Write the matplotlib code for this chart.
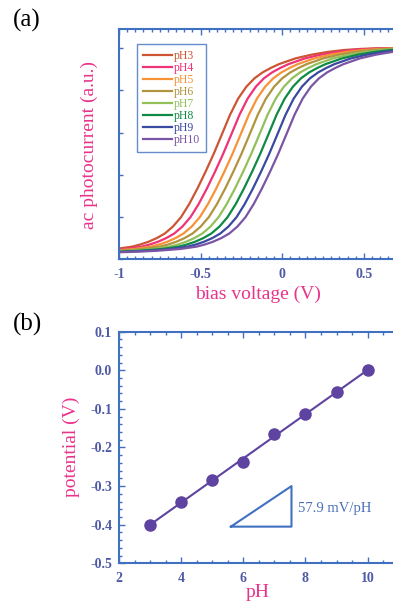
import numpy as np
import matplotlib
matplotlib.use("Agg")
import matplotlib.pyplot as plt
from matplotlib.ticker import MultipleLocator, FuncFormatter

# panel (a): photocurrent vs bias for each pH
ph_labels = ["pH3", "pH4", "pH5", "pH6", "pH7", "pH8", "pH9", "pH10"]
curve_colors = ["#cc5533", "#ee3377", "#f79239", "#b0943e",
                "#93c05a", "#0f8a45", "#3a4aa0", "#7a55a5"]
# bias (V) at half height for each curve
mid_v = [-0.42, -0.362, -0.305, -0.25, -0.19, -0.135, -0.08, -0.025]
# curve shape, bias relative to its half-height point
base_dv = [-1.05, -0.90, -0.75, -0.60, -0.50, -0.45, -0.40, -0.35, -0.30,
           -0.25, -0.20, -0.15, -0.10, -0.05, 0.00, 0.05, 0.10, 0.15, 0.20,
           0.25, 0.30, 0.35, 0.40, 0.50, 0.60, 0.70, 0.80, 0.90, 1.00, 1.20]
base_i = [0.032, 0.035, 0.040, 0.049, 0.060, 0.070, 0.083, 0.100, 0.122,
          0.155, 0.200, 0.262, 0.335, 0.415, 0.500, 0.592, 0.685, 0.762, 0.818,
          0.858, 0.886, 0.907, 0.925, 0.952, 0.970, 0.983, 0.992, 0.997, 1.000, 1.000]

# panel (b): flat band potential vs pH
ph = [3, 4, 5, 6, 7, 8, 9, 10]
potential = [-0.400, -0.342, -0.283, -0.237, -0.166, -0.113, -0.056, 0.000]
slope_text = "57.9 mV/pH"

spine_col = "#4070c0"
tick_col = "#4f5aa5"
label_col = "#e8338a"
plt.rcParams["font.family"] = ["Liberation Serif", "DejaVu Serif"]
plt.rcParams["font.weight"] = "bold"   # tick labels are bold, other text set to normal
plt.rcParams["axes.unicode_minus"] = False


def style_axes(ax):
    for s in ax.spines.values():
        s.set_color(spine_col)
        s.set_linewidth(1.5)
    ax.tick_params(which="both", direction="in", top=True, right=True,
                   color=spine_col, labelcolor=tick_col, labelsize=10, width=1.0)
    ax.tick_params(which="major", length=4, pad=6)
    ax.tick_params(which="minor", length=2)


fig = plt.figure(figsize=(3.93, 6.04), dpi=100)
ax1 = fig.add_axes([119 / 393, 1 - 259.3 / 604, 277.6 / 393, 230 / 604])
ax2 = fig.add_axes([119 / 393, 1 - 563.3 / 604, 279.7 / 393, 231.6 / 604])

# (a)
for lab, col, mv in zip(ph_labels, curve_colors, mid_v):
    ax1.plot(np.array(base_dv) + mv, base_i, color=col, lw=1.6, label=lab)
ax1.set_xlim(-1, 0.7)
ax1.set_ylim(0, 1.09)
ax1.xaxis.set_major_locator(MultipleLocator(0.5))
ax1.xaxis.set_minor_locator(MultipleLocator(0.05))
ax1.yaxis.set_major_locator(MultipleLocator(0.2))
ax1.xaxis.set_major_formatter(FuncFormatter(lambda v, p: "%g" % (round(v, 3) + 0.0)))
ax1.yaxis.set_major_formatter(FuncFormatter(lambda v, p: ""))
style_axes(ax1)
ax1.tick_params(axis="y", which="major", length=3)
ax1.set_xlabel("bias voltage (V)", color=label_col, fontsize=14, fontweight="normal")
ax1.xaxis.set_label_coords(0.5, -0.115)
ax1.set_ylabel("ac photocurrent (a.u.)", color=label_col, fontsize=14, fontweight="normal")
ax1.yaxis.set_label_coords(-0.075, 0.497)
leg = ax1.legend(loc="upper left", bbox_to_anchor=(0.064, 0.936), borderaxespad=0,
                 prop={"size": 8.5, "weight": "normal"}, frameon=True, fancybox=False,
                 handlelength=2.5, handletextpad=0.1, labelspacing=0.0, borderpad=0.5)
leg.get_frame().set_edgecolor(spine_col)
leg.get_frame().set_linewidth(1.0)
for txt, col in zip(leg.get_texts(), curve_colors):
    txt.set_color(col)

# (b)
fit = np.polyfit(ph, potential, 1)
xs = np.array([ph[0], ph[-1]])
ax2.plot(xs, np.polyval(fit, xs), color="#5e43a0", lw=1.5)
ax2.plot(ph, potential, "o", color="#5e43a0", ms=8, mec="#5e43a0")
ax2.plot([5.6, 7.55, 7.55, 5.6], [-0.405, -0.300, -0.405, -0.405],
         color=spine_col, lw=1.5)
ax2.text(7.75, -0.357, slope_text, color="#4a6fb8", fontsize=10.5,
         fontweight="normal", va="center")
ax2.set_xlim(2, 11)
ax2.set_ylim(-0.5, 0.1)
ax2.xaxis.set_major_locator(MultipleLocator(2))
ax2.xaxis.set_minor_locator(MultipleLocator(0.5))
ax2.yaxis.set_major_locator(MultipleLocator(0.1))
ax2.yaxis.set_minor_locator(MultipleLocator(0.02))
ax2.yaxis.set_major_formatter(FuncFormatter(lambda v, p: "%.1f" % (round(v, 3) + 0.0)))
style_axes(ax2)
ax2.tick_params(axis="y", which="major", pad=5)
ax2.set_xlabel("pH", color=label_col, fontsize=14, fontweight="normal")
ax2.xaxis.set_label_coords(0.497, -0.09)
ax2.set_ylabel("potential (V)", color=label_col, fontsize=14, fontweight="normal")
ax2.yaxis.set_label_coords(-0.14, 0.503)

fig.text(13 / 393, 1 - 9 / 604, "(a)", fontsize=18, fontweight="normal", va="top", ha="left")
fig.text(13 / 393, 1 - 313 / 604, "(b)", fontsize=18, fontweight="normal", va="top", ha="left")

fig.savefig("out.png", dpi=100)
